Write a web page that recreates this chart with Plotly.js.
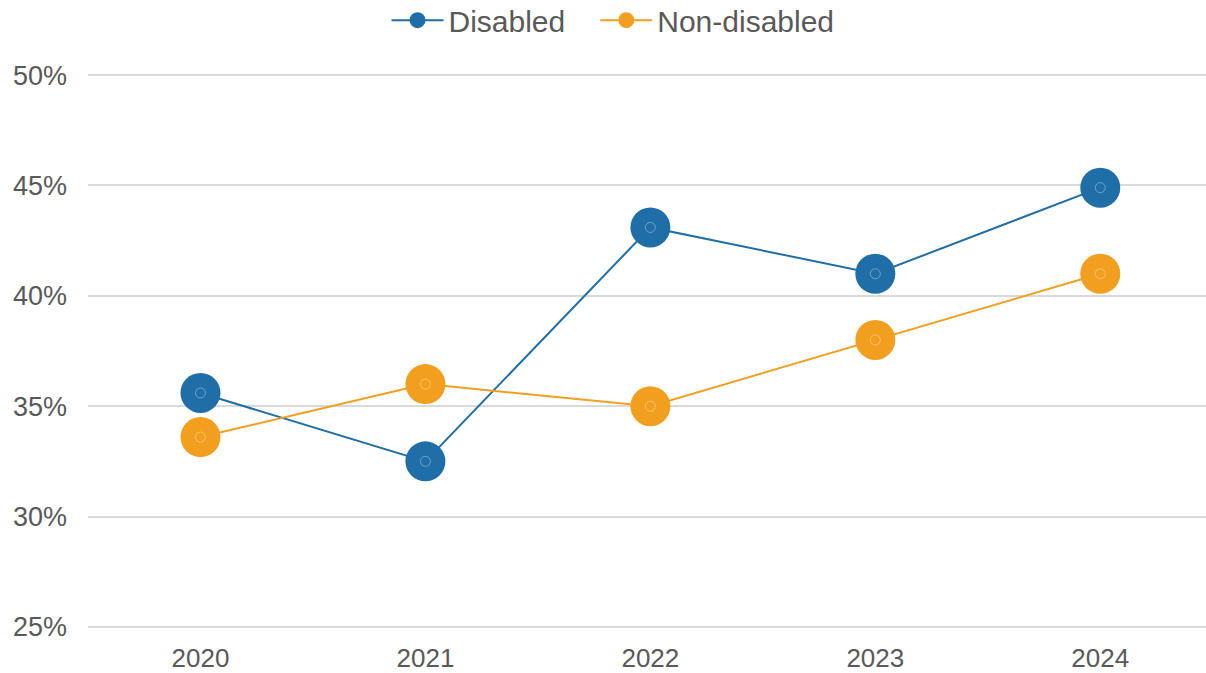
<!DOCTYPE html>
<html><head><meta charset="utf-8">
<script src="https://cdn.plot.ly/plotly-3.0.1.min.js"></script>
<style>html,body{margin:0;padding:0;background:#fff}</style>
</head><body>
<div id="chart" style="width:1206px;height:673px"></div>
<script>
const years = ['2020','2021','2022','2023','2024'];
const disabled = [35.6, 32.5, 43.1, 41.0, 44.9];
const nonDisabled = [33.6, 36.0, 35.0, 38.0, 41.0];
const seriesNames = ['Disabled', 'Non-disabled'];
const yTicks = [25, 30, 35, 40, 45, 50];
const yTickLabels = ['25%', '30%', '35%', '40%', '45%', '50%'];

const blue = '#1f6ea8', orange = '#f29f1f';
function series(name, y, color) {
  return [{
    x: years, y: y, name: name, type: 'scatter', mode: 'lines+markers',
    line: {color: color, width: 2},
    marker: {color: color, size: 40}
  }, {
    x: years, y: y, type: 'scatter', mode: 'markers', showlegend: false, hoverinfo: 'skip',
    marker: {symbol: 'circle-open', size: 10, color: 'rgba(255,255,255,0.35)', line: {width: 1}}
  }];
}
const data = [...series(seriesNames[0] + '\u00a0\u00a0\u00a0', disabled, blue),
              ...series(seriesNames[1], nonDisabled, orange)];
const layout = {
  width: 1206, height: 673,
  margin: {l: 88, r: 0, t: 74, b: 45},
  paper_bgcolor: '#fff', plot_bgcolor: '#fff',
  font: {family: 'Liberation Sans, Arial, sans-serif', color: '#595959'},
  showlegend: true,
  legend: {orientation: 'h', x: 0.267, xanchor: 'left', y: 0.97, yref: 'container', yanchor: 'middle',
           font: {size: 30, color: '#595959'}, itemwidth: 52, traceorder: 'normal'},
  xaxis: {type: 'category', range: [-0.5, 4.47], showgrid: false, zeroline: false, showline: false,
          tickfont: {size: 26, color: '#595959'}, ticks: '', ticklen: 0, ticklabelstandoff: 12},
  yaxis: {range: [24.95, 50.05], tickvals: yTicks, ticktext: yTickLabels, showgrid: true,
          gridcolor: '#d9d9d9', gridwidth: 1.5, zeroline: false, showline: false,
          tickfont: {size: 27, color: '#595959'}, ticks: '', ticklabelstandoff: 20}
};
Plotly.newPlot('chart', data, layout, {displayModeBar: false});
</script>
</body></html>
